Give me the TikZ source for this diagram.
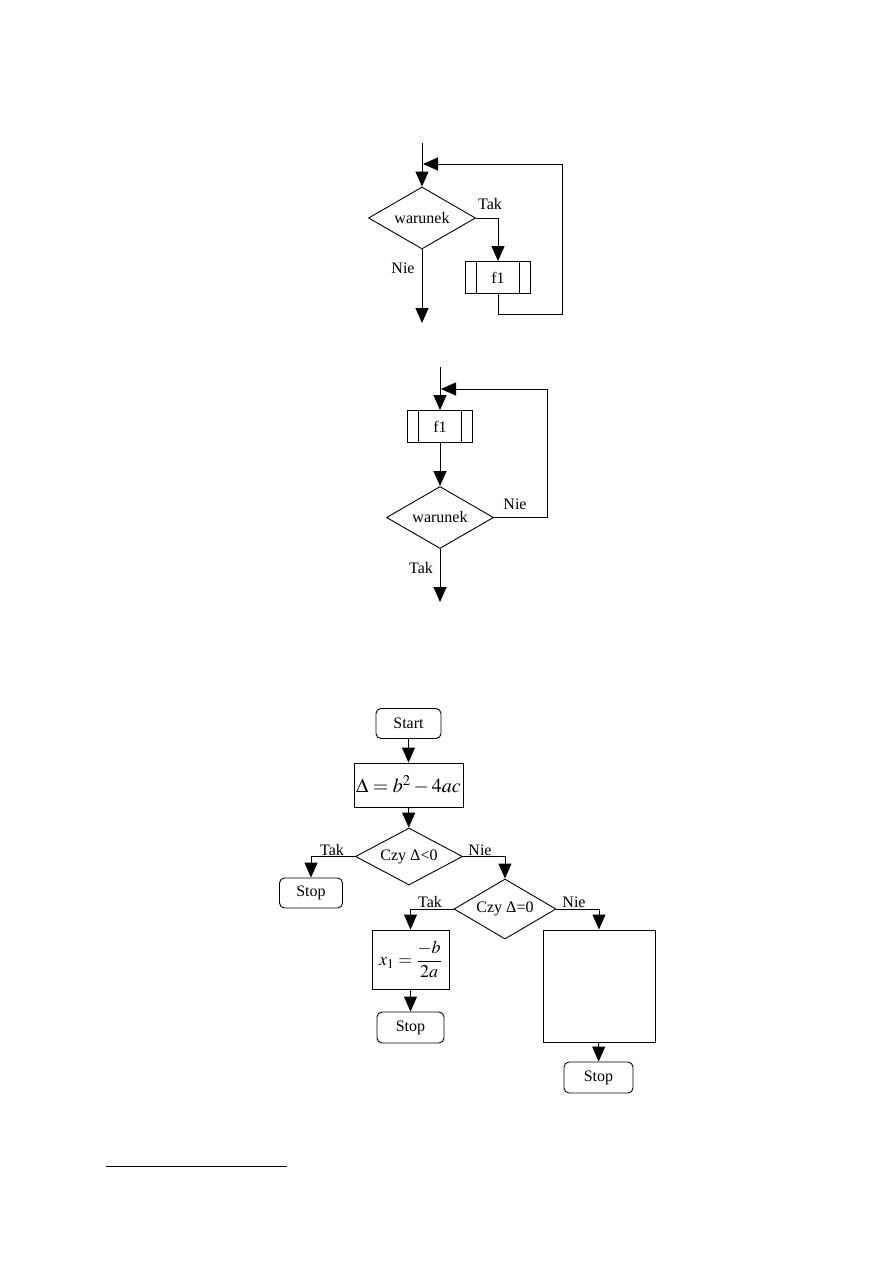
\documentclass[tikz,border=0pt]{standalone}
\usepackage{mathptmx}
\usepackage{fontspec}
\setmainfont{Liberation Serif}
\usetikzlibrary{shapes.geometric,arrows.meta}

\tikzset{
  line/.style={line width=0.9pt},
  arr/.style={line, -{Triangle[width=13pt,length=15pt]}},
  decision/.style={diamond, draw, line, inner sep=0pt, aspect=1.7,
    minimum width=107pt, minimum height=62pt},
  block/.style={rectangle, draw, line, inner sep=2pt},
  predef/.style={block, minimum width=65pt, minimum height=32pt,
    path picture={
      \draw[line] ([xshift=11pt]path picture bounding box.north west)
        -- ([xshift=11pt]path picture bounding box.south west);
      \draw[line] ([xshift=-11pt]path picture bounding box.north east)
        -- ([xshift=-11pt]path picture bounding box.south east);
    }},
  term/.style={rectangle, rounded corners=5pt, draw, line,
    minimum width=65pt, minimum height=30pt},
  lbl/.style={inner sep=0pt},
}

\begin{document}
\begin{tikzpicture}[x=1pt, y=-1pt, font=\fontsize{16}{18}\selectfont]
    \useasboundingbox (0,0) rectangle (893,1263);

    % petla while
    \coordinate (in1) at (422,143);
    \node[decision] (war1) at (422,218) {warunek};
    \node[predef] (f1a) at (498,277.5) {f1};
    \coordinate (out1) at (422,323);
    \coordinate (loop1) at (562,314);
    \coordinate (back1) at (423,164);

    \draw[arr] (in1) -- (war1.north);
    \draw[arr] (war1.east) -| (f1a.north);
    \draw[arr] (war1.south) -- (out1);
    \draw[arr] (f1a.south) |- (loop1) |- (back1);

    \node[lbl] (tak1) at (490,204) {Tak};
    \node[lbl] (nie1) at (403,268) {Nie};

    % petla do-while
    \coordinate (in2) at (440,367);
    \node[predef] (f1b) at (440,426.5) {f1};
    \node[decision] (war2) at (440,517.5) {warunek};
    \coordinate (out2) at (440,602);
    \coordinate (loop2) at (547,389);
    \coordinate (back2) at (441,389);

    \draw[arr] (in2) -- (f1b.north);
    \draw[arr] (f1b.south) -- (war2.north);
    \draw[arr] (war2.south) -- (out2);
    \draw[arr] (war2.east) -| (loop2) -- (back2);

    \node[lbl] (nie2) at (515,504) {Nie};
    \node[lbl] (tak2) at (421,568) {Tak};

    % rownanie kwadratowe
    \node[term] (start) at (408.5,723.5) {Start};
    \node[block, minimum width=109pt, minimum height=44pt,
      font=\fontsize{20}{22}\selectfont] (delta) at (408.5,785)
      {$\Delta = b^2 - 4ac$};
    \node[decision, minimum height=57pt, aspect=1.88] (czy1) at (409,856.5)
      {Czy Δ<0};
    \node[term, minimum width=63pt] (stop1) at (311,893) {Stop};
    \node[decision, minimum width=102pt, minimum height=60pt] (czy2) at (505,909)
      {Czy Δ=0};
    \node[block, minimum width=77pt, minimum height=59pt,
      font=\fontsize{18}{20}\selectfont] (x1) at (410.5,959.5)
      {$x_1 = \displaystyle\frac{-b}{2a}$};
    \node[term, minimum width=67pt, minimum height=31pt] (stop2) at (410.5,1027.5) {Stop};
    \node[block, minimum width=112pt, minimum height=112pt] (pusty) at (599,986) {};
    \node[term, minimum width=69pt, minimum height=31pt] (stop3) at (598.5,1077.5) {Stop};

    \draw[arr] (start) -- (delta);
    \draw[arr] (delta) -- (czy1);
    \draw[arr] (czy1.west) -| (stop1.north);
    \draw[arr] (czy1.east) -| (czy2.north);
    \draw[arr] (czy2.west) -| (x1.north);
    \draw[arr] (czy2.east) -| (pusty.north);
    \draw[arr] (x1) -- (stop2);
    \draw[arr] (pusty) -- (stop3);

    \node[lbl] (tak3) at (332,850) {Tak};
    \node[lbl] (nie3) at (480,850) {Nie};
    \node[lbl] (tak4) at (430,902) {Tak};
    \node[lbl] (nie4) at (574,902) {Nie};

    % przypis
    \draw[line width=1pt] (106,1166) -- (287,1166);
\end{tikzpicture}
\end{document}
